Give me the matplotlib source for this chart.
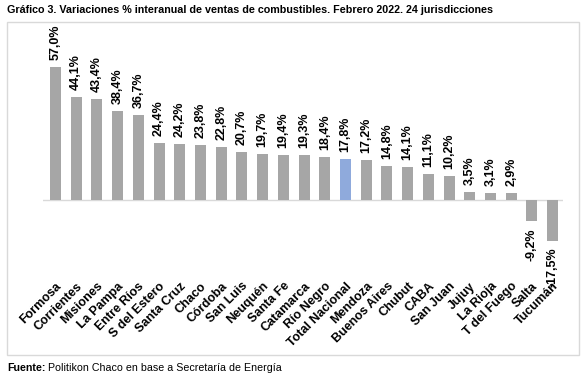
import matplotlib
matplotlib.use("Agg")
import matplotlib.pyplot as plt
from matplotlib.patches import Rectangle

categories = ["Formosa", "Corrientes", "Misiones", "La Pampa", "Entre Ríos", "S del Estero",
              "Santa Cruz", "Chaco", "Córdoba", "San Luis", "Neuquén", "Santa Fe",
              "Catamarca", "Río Negro", "Total Nacional", "Mendoza", "Buenos Aires",
              "Chubut", "CABA", "San Juan", "Jujuy", "La Rioja", "T del Fuego", "Salta", "Tucumán"]
values = [57.0, 44.1, 43.4, 38.4, 36.7, 24.4, 24.2, 23.8, 22.8, 20.7, 19.7, 19.4,
          19.3, 18.4, 17.8, 17.2, 14.8, 14.1, 11.1, 10.2, 3.5, 3.1, 2.9, -9.2, -17.5]
highlight = "Total Nacional"

plt.rcParams['font.family'] = ['Liberation Sans', 'DejaVu Sans']

W, H = 587, 382
fig = plt.figure(figsize=(W / 100, H / 100), dpi=100)

# frame box
fig.patches.append(Rectangle((7 / W, 1 - 355 / H), (579 - 7) / W, (355 - 22) / H,
                             transform=fig.transFigure, fill=False,
                             edgecolor="#d9d9d9", linewidth=1.0))

ax = fig.add_axes([43 / W, 1 - 274.6 / H, (563 - 43) / W, (274.6 - 36.9) / H])
x = list(range(len(categories)))
colors = ["#8faadc" if c == highlight else "#a6a6a6" for c in categories]
ax.bar(x, values, width=0.53, color=colors, zorder=2)
ax.axhline(0, color="#d9d9d9", linewidth=1.0, zorder=1)
ax.set_xlim(-0.6, 24.5)
ax.set_ylim(-32, 70)

for xi, v in zip(x, values):
    lab = f"{v:.1f}%".replace(".", ",")
    if v >= 0:
        ax.annotate(lab, (xi, v), xytext=(0, 5), textcoords="offset points",
                    rotation=90, ha="center", va="bottom", fontsize=9,
                    fontweight="bold", annotation_clip=False)
    else:
        ax.annotate(lab, (xi, v), xytext=(0, -5), textcoords="offset points",
                    rotation=90, ha="center", va="top", fontsize=9,
                    fontweight="bold", annotation_clip=False)

ax.set_xticks(x)
ax.set_xticklabels(categories, rotation=45, ha="right", va="top",
                   rotation_mode="anchor", fontsize=9, fontweight="bold")
ax.tick_params(axis="x", length=0, pad=4)
ax.set_yticks([])
for s in ax.spines.values():
    s.set_visible(False)
ax.patch.set_alpha(0)

title = fig.text(7 / W, 1 - 10 / H,
                 "Gráfico 3. Variaciones % interanual de ventas de combustibles. Febrero 2022. 24 jurisdicciones",
                 fontsize=9.5, fontweight="bold", ha="left", va="center")
fig.canvas.draw()
w = title.get_window_extent().width
title.set_fontsize(9.5 * 485 / w)

t = fig.text(7 / W, 1 - 368 / H, "Fuente:", fontsize=7.7, fontweight="bold",
             ha="left", va="center")
fig.canvas.draw()
bb = t.get_window_extent()
fig.text((bb.x1 + 3) / W, 1 - 368 / H, "Politikon Chaco en base a Secretaría de Energía",
         fontsize=7.7, ha="left", va="center")

fig.savefig("out.png", dpi=100)
